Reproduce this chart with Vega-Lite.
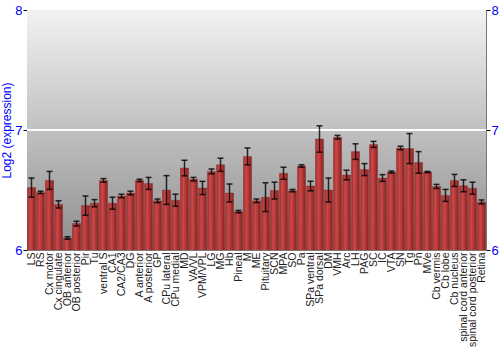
{
  "$schema": "https://vega.github.io/schema/vega-lite/v6.json",
  "autosize": "none",
  "width": 459,
  "height": 240,
  "padding": {"left": 27, "top": 10, "right": 14, "bottom": 100},
  "background": "white",
  "config": {
    "view": {"stroke": "#777777", "strokeWidth": 1},
    "font": "Liberation Sans"
  },
  "datasets": {
    "expr": [
      {"region": "LS", "v": 6.52, "lo": 6.44, "hi": 6.60},
      {"region": "RS", "v": 6.48, "lo": 6.47, "hi": 6.49},
      {"region": "Cx motor", "v": 6.58, "lo": 6.505, "hi": 6.655},
      {"region": "Cx cingulate", "v": 6.38, "lo": 6.35, "hi": 6.41},
      {"region": "OB anterior", "v": 6.10, "lo": 6.09, "hi": 6.11},
      {"region": "OB posterior", "v": 6.22, "lo": 6.20, "hi": 6.24},
      {"region": "Pir", "v": 6.37, "lo": 6.29, "hi": 6.45},
      {"region": "Tu", "v": 6.39, "lo": 6.36, "hi": 6.42},
      {"region": "ventral S", "v": 6.58, "lo": 6.565, "hi": 6.595},
      {"region": "CA1", "v": 6.39, "lo": 6.34, "hi": 6.44},
      {"region": "CA2/CA3", "v": 6.45, "lo": 6.435, "hi": 6.465},
      {"region": "DG", "v": 6.475, "lo": 6.46, "hi": 6.49},
      {"region": "A anterior", "v": 6.58, "lo": 6.57, "hi": 6.59},
      {"region": "A posterior", "v": 6.555, "lo": 6.505, "hi": 6.605},
      {"region": "GP", "v": 6.41, "lo": 6.395, "hi": 6.425},
      {"region": "CPu lateral", "v": 6.50, "lo": 6.38, "hi": 6.62},
      {"region": "CPu medial", "v": 6.415, "lo": 6.365, "hi": 6.465},
      {"region": "MD", "v": 6.683, "lo": 6.618, "hi": 6.748},
      {"region": "VA/VL", "v": 6.59, "lo": 6.575, "hi": 6.605},
      {"region": "VPM/VPL", "v": 6.517, "lo": 6.462, "hi": 6.572},
      {"region": "LG", "v": 6.655, "lo": 6.635, "hi": 6.675},
      {"region": "MG", "v": 6.71, "lo": 6.655, "hi": 6.765},
      {"region": "Hb", "v": 6.475, "lo": 6.40, "hi": 6.55},
      {"region": "Pineal", "v": 6.32, "lo": 6.31, "hi": 6.33},
      {"region": "M", "v": 6.78, "lo": 6.71, "hi": 6.85},
      {"region": "ME", "v": 6.41, "lo": 6.395, "hi": 6.425},
      {"region": "Pituitary", "v": 6.44, "lo": 6.32, "hi": 6.56},
      {"region": "SCN", "v": 6.495, "lo": 6.425, "hi": 6.565},
      {"region": "MPA", "v": 6.64, "lo": 6.59, "hi": 6.69},
      {"region": "SO", "v": 6.495, "lo": 6.485, "hi": 6.505},
      {"region": "Pa", "v": 6.70, "lo": 6.69, "hi": 6.71},
      {"region": "SPa ventral", "v": 6.533, "lo": 6.493, "hi": 6.573},
      {"region": "SPa dorsal", "v": 6.925, "lo": 6.815, "hi": 7.035},
      {"region": "DM", "v": 6.50, "lo": 6.40, "hi": 6.60},
      {"region": "VMH", "v": 6.94, "lo": 6.925, "hi": 6.955},
      {"region": "Arc", "v": 6.625, "lo": 6.585, "hi": 6.665},
      {"region": "LH", "v": 6.82, "lo": 6.755, "hi": 6.885},
      {"region": "PAG", "v": 6.67, "lo": 6.62, "hi": 6.72},
      {"region": "SC", "v": 6.88, "lo": 6.855, "hi": 6.905},
      {"region": "IC", "v": 6.60, "lo": 6.572, "hi": 6.628},
      {"region": "VTA", "v": 6.65, "lo": 6.642, "hi": 6.658},
      {"region": "SN", "v": 6.85, "lo": 6.835, "hi": 6.865},
      {"region": "Tg", "v": 6.845, "lo": 6.72, "hi": 6.97},
      {"region": "Pn", "v": 6.73, "lo": 6.64, "hi": 6.82},
      {"region": "MVe", "v": 6.65, "lo": 6.645, "hi": 6.655},
      {"region": "Cb vermis", "v": 6.53, "lo": 6.513, "hi": 6.547},
      {"region": "Cb lobe", "v": 6.455, "lo": 6.405, "hi": 6.505},
      {"region": "Cb nucleus", "v": 6.58, "lo": 6.53, "hi": 6.63},
      {"region": "spinal cord anterior", "v": 6.535, "lo": 6.485, "hi": 6.585},
      {"region": "spinal cord posterior", "v": 6.515, "lo": 6.465, "hi": 6.565},
      {"region": "Retina", "v": 6.40, "lo": 6.383, "hi": 6.417}
    ]
  },
  "resolve": {"axis": {"y": "independent"}},
  "layer": [
    {
      "data": {"values": [{"lo": 6, "hi": 8}]},
      "mark": {
        "type": "rect",
        "color": {
          "gradient": "linear",
          "x1": 0, "y1": 0, "x2": 0, "y2": 1,
          "stops": [
            {"offset": 0, "color": "#f2f2f2"},
            {"offset": 1, "color": "#8e8e8e"}
          ]
        }
      },
      "encoding": {
        "y": {
          "field": "hi",
          "type": "quantitative",
          "scale": {"domain": [6, 8], "nice": false, "zero": false},
          "axis": {
            "orient": "left",
            "values": [6, 7, 8],
            "labelExpr": "format(datum.value, '.0f')",
            "labelOverlap": false,
            "labelFlush": false,
            "grid": false,
            "domainColor": "#777777",
            "tickColor": "#000000",
            "tickSize": 4,
            "labelColor": "#0000ff",
            "labelFontSize": 13,
            "labelPadding": 1,
            "title": "Log2 (expression)",
            "titleColor": "#0000ff",
            "titleFontSize": 12,
            "titleFontWeight": "normal",
            "titlePadding": 1
          }
        },
        "y2": {"field": "lo"}
      }
    },
    {
      "data": {"values": [{"g": 7}]},
      "mark": {"type": "rule", "color": "#ffffff", "strokeWidth": 2},
      "encoding": {
        "y": {"field": "g", "type": "quantitative", "axis": null}
      }
    },
    {
      "data": {"name": "expr"},
      "mark": {
        "type": "bar",
        "clip": true,
        "stroke": "#7a1c1c",
        "strokeWidth": 0.5,
        "strokeOpacity": 0.6,
        "color": {
          "gradient": "linear",
          "x1": 0, "y1": 0, "x2": 1, "y2": 0,
          "stops": [
            {"offset": 0, "color": "#a42a2a"},
            {"offset": 0.35, "color": "#cc4848"},
            {"offset": 1, "color": "#8a2020"}
          ]
        }
      },
      "encoding": {
        "x": {
          "field": "region",
          "type": "nominal",
          "sort": null,
          "scale": {"paddingInner": 0.1, "paddingOuter": 0.05},
          "axis": {
            "title": null,
            "labelAngle": -90,
            "labelFontSize": 10.5,
            "labelColor": "#222222",
            "labelPadding": 2,
            "ticks": false,
            "domainColor": "#777777"
          }
        },
        "y": {
          "field": "v",
          "type": "quantitative",
          "axis": {
            "orient": "right",
            "values": [6, 7, 8],
            "labelExpr": "format(datum.value, '.0f')",
            "labelOverlap": false,
            "labelFlush": false,
            "grid": false,
            "domainColor": "#777777",
            "tickColor": "#000000",
            "tickSize": 4,
            "labelColor": "#0000ff",
            "labelFontSize": 13,
            "labelPadding": 1,
            "title": null
          }
        }
      }
    },
    {
      "data": {"name": "expr"},
      "mark": {"type": "rule", "color": "#000000", "strokeWidth": 1.5, "opacity": 0.8},
      "encoding": {
        "x": {"field": "region", "type": "nominal", "sort": null},
        "y": {"field": "lo", "type": "quantitative", "axis": null},
        "y2": {"field": "hi"}
      }
    },
    {
      "data": {"name": "expr"},
      "mark": {"type": "tick", "color": "#000000", "size": 6, "thickness": 1.5, "opacity": 0.8},
      "encoding": {
        "x": {"field": "region", "type": "nominal", "sort": null},
        "y": {"field": "lo", "type": "quantitative", "axis": null}
      }
    },
    {
      "data": {"name": "expr"},
      "mark": {"type": "tick", "color": "#000000", "size": 6, "thickness": 1.5, "opacity": 0.8},
      "encoding": {
        "x": {"field": "region", "type": "nominal", "sort": null},
        "y": {"field": "hi", "type": "quantitative", "axis": null}
      }
    }
  ]
}
